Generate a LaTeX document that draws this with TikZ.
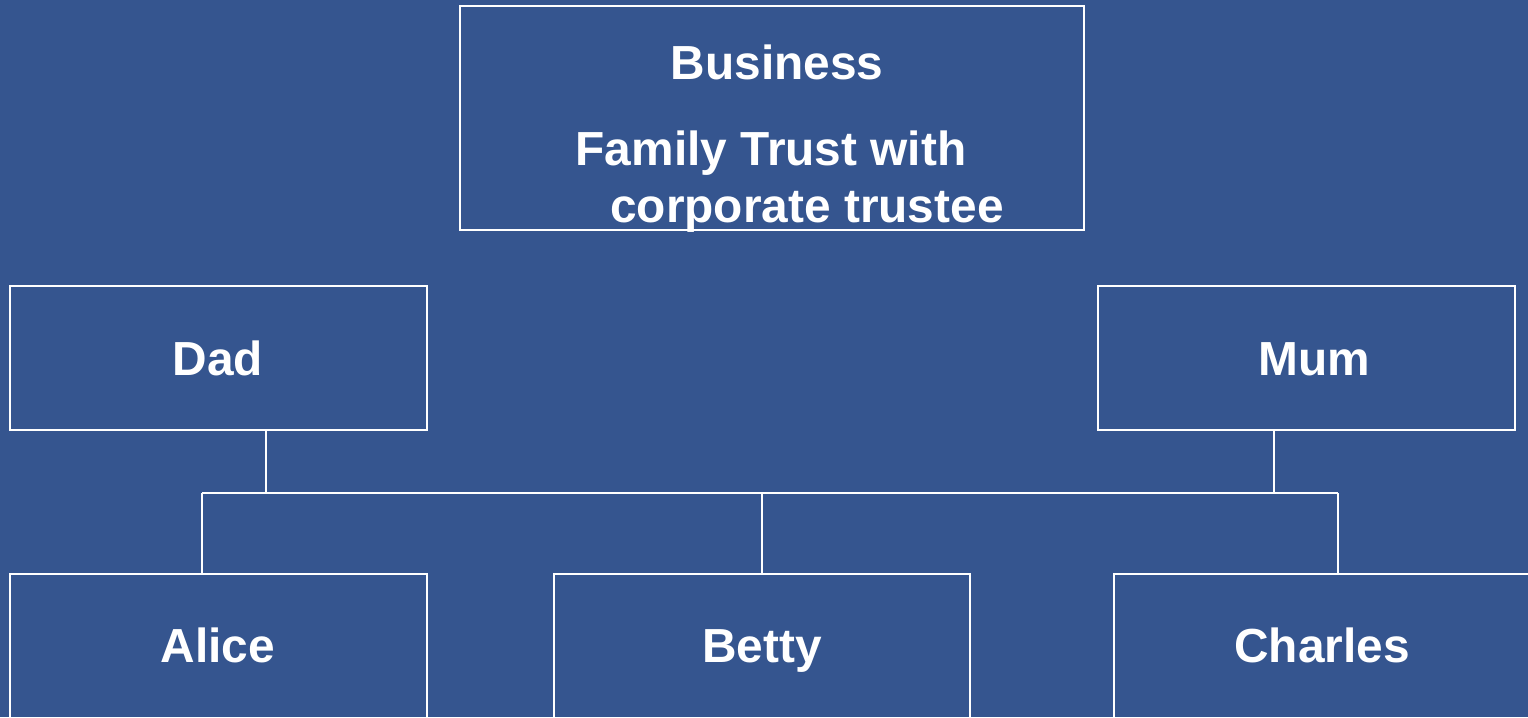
\documentclass[tikz,border=0pt]{standalone}
\usepackage{fontspec}
\setmainfont{Liberation Sans}
\definecolor{slide}{RGB}{53,85,143}
\begin{document}
\begin{tikzpicture}[x=0.01cm,y=-0.01cm,
  box/.style={draw=white,line width=0.6pt,inner sep=0pt,outer sep=0pt,
    minimum width=#1,minimum height=1.44cm},
  box/.default=4.17cm,
  lbl/.style={text=white,font=\bfseries\fontsize{13.6}{16}\selectfont,
    anchor=base,inner sep=0pt},
  link/.style={draw=white,line width=0.6pt}]
  % page and background
  \fill[slide] (0,0) rectangle (1528,717);
  \useasboundingbox (0,0) rectangle (1528,717);
  \clip (0,0) rectangle (1528,717);

  % business box
  \node[box, minimum width=6.24cm, minimum height=2.24cm] (biz) at (772,118) {};
  \node[lbl] (bizt) at (777,79) {Business};
  \node[lbl] (trust1) at (771,165) {Family Trust with};
  \node[lbl] (trust2) at (807,222) {corporate trustee};

  % parents
  \node[box] (dad) at (218.5,358) {};
  \node[lbl] (dadt) at (218,375) {Dad};
  \node[box] (mum) at (1306.5,358) {};
  \node[lbl] (mumt) at (1314,375) {Mum};

  % children
  \node[box] (alice) at (218.5,646) {};
  \node[lbl] (alicet) at (218,662) {Alice};
  \node[box, minimum width=4.16cm] (betty) at (762,646) {};
  \node[lbl] (bettyt) at (762,662) {Betty};
  \node[box] (charles) at (1322.5,646) {};
  \node[lbl] (charlest) at (1322,662) {Charles};

  % junctions of the family bar
  \coordinate (jd) at (266,493);
  \coordinate (jm) at (1274,493);
  \coordinate (bl) at (202,493);
  \coordinate (br) at (1338,493);

  % connectors
  \draw[link] (dad.south -| jd) -- (jd);
  \draw[link] (mum.south -| jm) -- (jm);
  \draw[link] (bl) -- (br);
  \draw[link] (bl) -- (alice.north -| bl);
  \draw[link] (betty.north |- bl) -- (betty.north);
  \draw[link] (br) -- (charles.north -| br);
\end{tikzpicture}
\end{document}
